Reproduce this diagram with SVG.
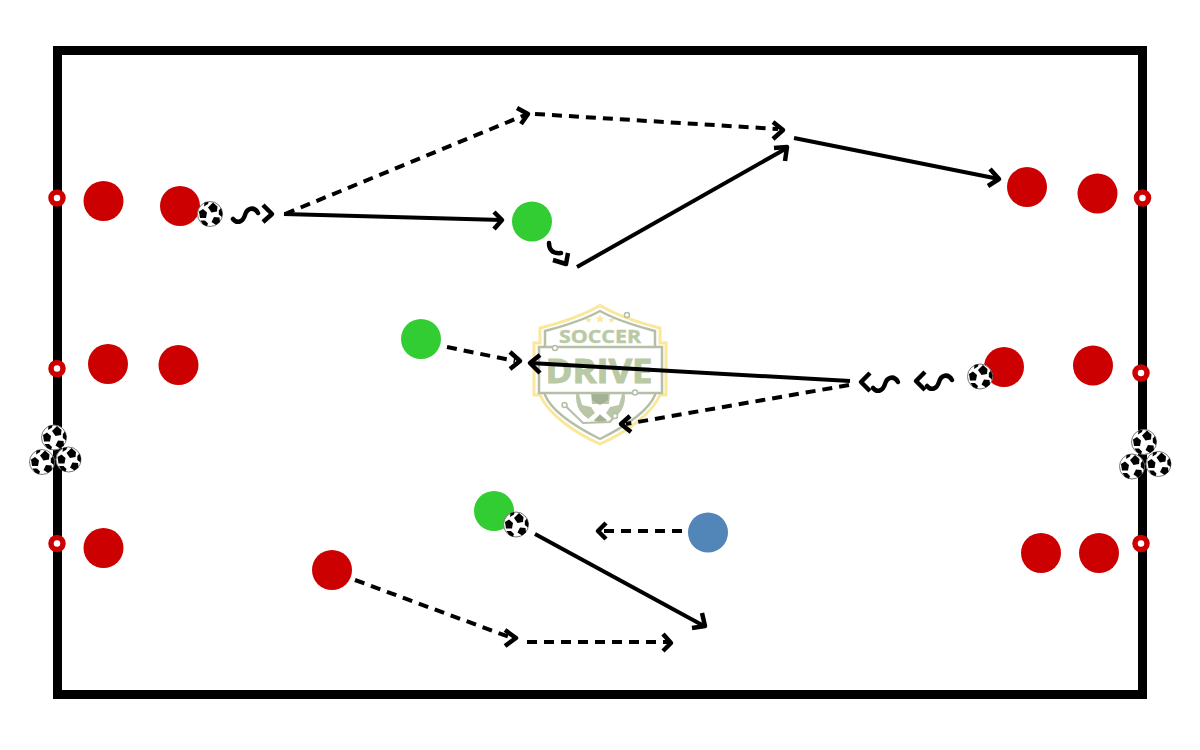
<svg xmlns="http://www.w3.org/2000/svg" width="1200" height="750" viewBox="0 0 1200 750">
<style>
.r{fill:#cc0000}.g{fill:#32cd32}.b{fill:#5285b8}
.post{fill:#fff;stroke:#cc0000;stroke-width:5.500}
.solid,.dash,.tip,.sq{fill:none;stroke:#000;stroke-width:4}
.dash{stroke-dasharray:10 7}
.tip{stroke-width:4.500;stroke-linejoin:round}
.sq{stroke-linecap:round;stroke-width:4.500}
.lt{font-family:"Open Sans","Liberation Sans",Arial,sans-serif;font-weight:700;text-anchor:middle;fill:#b9c9a4;stroke:#b9c9a4}
.thin{fill:none;stroke:#b4bfa8;stroke-width:2}
</style>
<defs>
<g id="ball">
<circle r="12.500" fill="#fff" stroke="#777" stroke-width="1"/>
<g fill="#000">
<polygon points="3,-11.500 7.500,-7.500 7,-2.500 1.500,-1.500 -2,-6.500"/>
<polygon points="-11,-2.500 -7,-5 -3,-1.500 -4,4 -10,4"/>
<polygon points="4,3 9.500,3.500 10,8 6,11 1.500,8"/>
<polygon points="-9.500,6.500 -5,6.500 -2,9.500 -3,12.300 -7,10.500"/>
<polygon points="11,-6 12.500,-1 12,3 8.800,0.500 8.800,-3.500"/>
<polygon points="-5.500,-11.500 -1.500,-12.300 -2,-10 -6,-7.500"/>
</g>
</g>
<g id="squig"><path class="sq" d="M-15,5 C-11,10 -5,8 -3,1 C-1,-6 6,-8 10,-1"/></g>
<g id="tri">
<use href="#ball" x="0" y="-12.500"/>
<use href="#ball" x="-12" y="12"/>
<use href="#ball" x="14.500" y="9.500"/>
</g>
<polygon id="star" points="0,-5 1.200,-1.600 4.800,-1.500 1.900,0.600 2.900,4 0,2 -2.900,4 -1.900,0.600 -4.800,-1.500 -1.200,-1.600"/>
</defs>
<rect width="1200" height="750" fill="#fff"/>
<rect id="pitch" x="57.500" y="50.500" width="1085" height="644" fill="none" stroke="#000" stroke-width="9"/>

<g id="logo">
<path d="M600,305.500 C618,316 640,323 660,328 L660,343 L666,343 L666,395 L660,395 C652,414 625,433 600,444 C575,433 548,414 540,395 L534,395 L534,343 L540,343 L540,328 C560,323 582,316 600,305.500Z" fill="#fff" stroke="#fbe79a" stroke-width="3"/>
<path d="M600,311 C616,320 636,326 655,331 L655,395 C648,412 622,428 600,439 C578,428 552,412 545,395 L545,331 C564,326 584,320 600,311Z" fill="#fff" stroke="#b4bfa8" stroke-width="2.500"/>
<circle cx="600.500" cy="397.500" r="24.500" fill="#b9c6a8"/>
<path d="M579,394 L591,394 L592,404 L609,404 L610,394 L622,394 L619,405 L610,407 L606,413 L612,419 L607,421 L600,414 L594,421 L588,419 L595,413 L591,407 L582,405Z" fill="#fff"/>
<polygon points="592,393 608,393 608,400 600,405 592,400" fill="#a3b094"/>
<polygon points="600,415 607,420 600,422 594,420" fill="#a3b094"/>
<rect x="539" y="347" width="123" height="46" fill="#fff" stroke="#b4bfa8" stroke-width="2.500"/>
<text class="lt" x="600" y="343" font-size="18" stroke-width=".4" textLength="82" lengthAdjust="spacingAndGlyphs">SOCCER</text>
<text class="lt" x="599" y="383" font-size="34" stroke-width="1" textLength="107" lengthAdjust="spacingAndGlyphs">DRIVE</text>
<g fill="#fbe79a">
<use href="#star" x="600" y="319"/>
<use href="#star" transform="translate(588.500,320) scale(.7)"/>
<use href="#star" transform="translate(611.500,320) scale(.7)"/>
</g>
<path class="thin" d="M564.500,405 L583,423 L610,422 L615,416"/>
<g fill="#fff" stroke="#b4bfa8" stroke-width="1.500">
<circle cx="627" cy="315" r="2.500"/><circle cx="555" cy="348" r="2.500"/><circle cx="635" cy="392.500" r="2.500"/><circle cx="564.500" cy="405" r="2.500"/><circle cx="615" cy="416" r="2.500"/>
</g>
</g>

<g id="connectors">
<line class="dash" x1="285" y1="214" x2="525" y2="115"/>
<path class="tip" d="M517,108 L528,114 L521,124"/>
<line class="dash" x1="535" y1="114" x2="778" y2="129"/>
<path class="tip" d="M773,122 L783,130 L773,139"/>
<line class="solid" x1="284" y1="214" x2="502" y2="220"/>
<path class="tip" d="M494,212 L502,220 L494,229"/>
<line class="solid" x1="577" y1="267" x2="787" y2="148"/>
<path class="tip" d="M774,148 L787,147 L785,161"/>
<line class="solid" x1="794" y1="138" x2="999" y2="179"/>
<path class="tip" d="M990,169 L999,179 L988,186"/>
<use href="#squig" x="248" y="214"/>
<path class="tip" d="M263,205 L272,214 L263,222"/>
<path class="sq" d="M549,243 C549,249 552,254 561,253"/>
<path class="tip" d="M568,253 L566,264 L553,260"/>
<line class="dash" x1="447" y1="347" x2="515" y2="361"/>
<path class="tip" d="M510,352 L520,361 L510,369"/>
<line class="solid" x1="850" y1="381" x2="530" y2="363"/>
<path class="tip" d="M540,355 L530,363 L540,373"/>
<use href="#squig" transform="translate(888,383)"/>
<path class="tip" d="M870,373 L861,382 L870,391"/>
<use href="#squig" transform="translate(942,381)"/>
<path class="tip" d="M925,372 L916,381 L925,390"/>
<line class="dash" x1="849" y1="385" x2="626" y2="424"/>
<path class="tip" d="M630,416 L621,424 L631,432"/>
<line class="dash" x1="682" y1="531" x2="600" y2="531"/>
<path class="tip" d="M606,523 L598,531 L606,539"/>
<line class="solid" x1="535" y1="534" x2="704" y2="626"/>
<path class="tip" d="M702,613 L705,626 L692,628"/>
<line class="dash" x1="355" y1="580" x2="512" y2="638"/>
<path class="tip" d="M505,630 L516,638 L505,646"/>
<line class="dash" x1="527" y1="642" x2="668" y2="642"/>
<path class="tip" d="M663,634 L671,643 L663,651"/>
</g>

<g id="post-1"><circle class="post" cx="57" cy="198" r="6"/></g>
<g id="post-2"><circle class="post" cx="57" cy="368.500" r="6"/></g>
<g id="post-3"><circle class="post" cx="57" cy="543.500" r="6"/></g>
<g id="post-4"><circle class="post" cx="1142.500" cy="198" r="6"/></g>
<g id="post-5"><circle class="post" cx="1141" cy="373" r="6"/></g>
<g id="post-6"><circle class="post" cx="1141" cy="543.500" r="6"/></g>

<g id="red-1"><circle class="r" cx="103.500" cy="201" r="20"/></g>
<g id="red-2"><circle class="r" cx="180" cy="206" r="20"/></g>
<g id="red-3"><circle class="r" cx="108" cy="364" r="20"/></g>
<g id="red-4"><circle class="r" cx="178.500" cy="365" r="20"/></g>
<g id="red-5"><circle class="r" cx="103.500" cy="548" r="20"/></g>
<g id="red-6"><circle class="r" cx="332" cy="570" r="20"/></g>
<g id="red-7"><circle class="r" cx="1027" cy="187" r="20"/></g>
<g id="red-8"><circle class="r" cx="1097.500" cy="193.500" r="20"/></g>
<g id="red-9"><circle class="r" cx="1004" cy="367" r="20"/></g>
<g id="red-10"><circle class="r" cx="1093" cy="365.500" r="20"/></g>
<g id="red-11"><circle class="r" cx="1041" cy="553" r="20"/></g>
<g id="red-12"><circle class="r" cx="1099" cy="553" r="20"/></g>
<g id="green-1"><circle class="g" cx="532" cy="221.500" r="20"/></g>
<g id="green-2"><circle class="g" cx="421" cy="339" r="20"/></g>
<g id="green-3"><circle class="g" cx="494" cy="511" r="20"/></g>
<g id="blue-1"><circle class="b" cx="708" cy="532.500" r="20"/></g>

<g id="ball-1"><use href="#ball" x="210" y="214"/></g>
<g id="ball-2"><use href="#ball" x="980" y="376.500"/></g>
<g id="ball-3"><use href="#ball" x="516" y="524.500"/></g>
<g id="balls-left"><use href="#tri" x="54" y="450"/></g>
<g id="balls-right"><use href="#tri" x="1144" y="454.500"/></g>
</svg>
